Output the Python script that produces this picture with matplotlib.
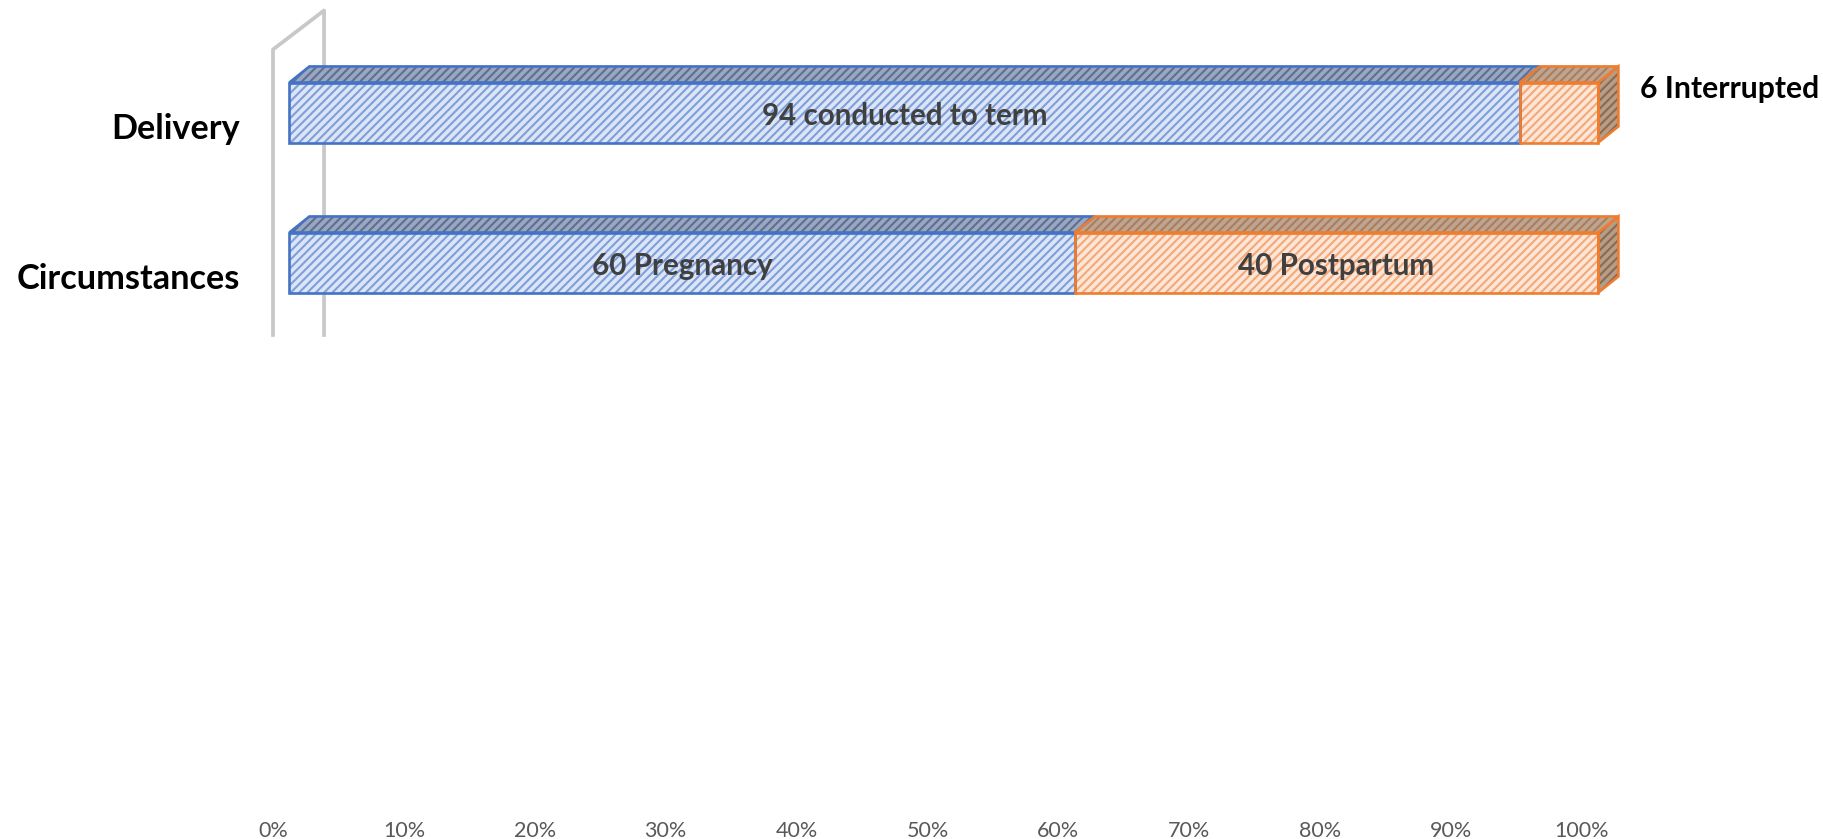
import matplotlib
matplotlib.use('Agg')
from matplotlib import pyplot as plt

plt.rcParams['font.family'] = ['Lato', 'DejaVu Sans']
plt.rcParams['hatch.linewidth'] = 1.5

# Data
categories = ['Delivery', 'Circumstances']
first_values = [94, 60]
second_values = [6, 40]
first_labels = ['94 conducted to term', '60 Pregnancy']
second_labels = ['6 Interrupted', '40 Postpartum']
ticks = [0, 10, 20, 30, 40, 50, 60, 70, 80, 90, 100]

# Look of the fake 3D bars
blue = {'edge': '#4472C4', 'front': '#DCE5F5', 'front_h': '#7F9FDB', 'top': '#9AA7C0', 'top_h': '#5F6F94'}
orange = {'edge': '#ED7D31', 'front': '#FCE6D8', 'front_h': '#F4A877', 'top': '#BFA48F', 'top_h': '#A87F5E',
          'side': '#B79C86', 'side_h': '#8A6A50'}
bar_h = 0.4
shift = 1.25    # bars start a little after the wall
dx = 1.53
dy = 0.107

fig = plt.figure(figsize=(18.23, 8.39), dpi=100)
ax = fig.add_axes([273 / 1823, 1 - 815 / 839, (1582 - 273) / 1823, 815 / 839])
ax.set_xlim(0, 100)
ax.set_ylim(4.683, -0.75)
for s in ax.spines.values():
    s.set_visible(False)


def face(xs, ys, fill, hatch_col, edge):
    ax.fill(xs, ys, facecolor=fill, edgecolor='none', clip_on=False, zorder=3)
    ax.fill(xs, ys, facecolor='none', edgecolor=hatch_col, hatch='////', linewidth=0, clip_on=False, zorder=3)
    ax.fill(xs, ys, facecolor='none', edgecolor=edge, linewidth=1.9, clip_on=False, zorder=4, joinstyle='miter')


def segment(i, left, width, c, side=False):
    x0 = left + shift
    x1 = x0 + width
    top = i - bar_h / 2
    bot = i + bar_h / 2
    ax.barh(i, width, height=bar_h, left=x0, color=c['front'], zorder=3, clip_on=False)
    ax.barh(i, width, height=bar_h, left=x0, color='none', edgecolor=c['front_h'], hatch='////', linewidth=0,
            zorder=3, clip_on=False)
    ax.barh(i, width, height=bar_h, left=x0, color='none', edgecolor=c['edge'], linewidth=1.9, zorder=4, clip_on=False)
    face([x0, x0 + dx, x1 + dx, x1], [top, top - dy, top - dy, top], c['top'], c['top_h'], c['edge'])
    if side:
        face([x1, x1 + dx, x1 + dx, x1], [top, top - dy, bot - dy, bot], c['side'], c['side_h'], c['edge'])


# Wall behind the bars
wall_bottom = 1.483
ax.plot([0, 0, 3.9, 3.9], [wall_bottom, -0.42, -0.68, wall_bottom], color='#C8C8C8', lw=2.7,
        clip_on=False, zorder=1, solid_joinstyle='round')

for i in range(len(categories)):
    segment(i, 0, first_values[i], blue)
    segment(i, first_values[i], second_values[i], orange, side=True)
    ax.text(shift + first_values[i] / 2, i + 0.025, first_labels[i], ha='center', va='center',
            fontsize=21.3, fontweight='bold', color='#404040', zorder=5)
    if second_values[i] > 10:
        ax.text(shift + first_values[i] + second_values[i] / 2, i + 0.025, second_labels[i], ha='center', va='center',
                fontsize=21.3, fontweight='bold', color='#404040', zorder=5)
    else:
        ax.text(104.4, i - 0.16, second_labels[i], ha='left', va='center',
                fontsize=21.7, fontweight='bold', color='black', zorder=5, clip_on=False)

ax.set_xticks(ticks)
ax.set_xticklabels([str(t) + '%' for t in ticks], fontsize=15.5, color='#595959')
ax.set_yticks([i + 0.09 for i in range(len(categories))])
ax.set_yticklabels(categories, fontsize=24.7, fontweight='bold', color='black')
ax.tick_params(axis='x', length=0, pad=4.5)
ax.tick_params(axis='y', length=0, pad=24)

fig.savefig('out.png', dpi=100)
